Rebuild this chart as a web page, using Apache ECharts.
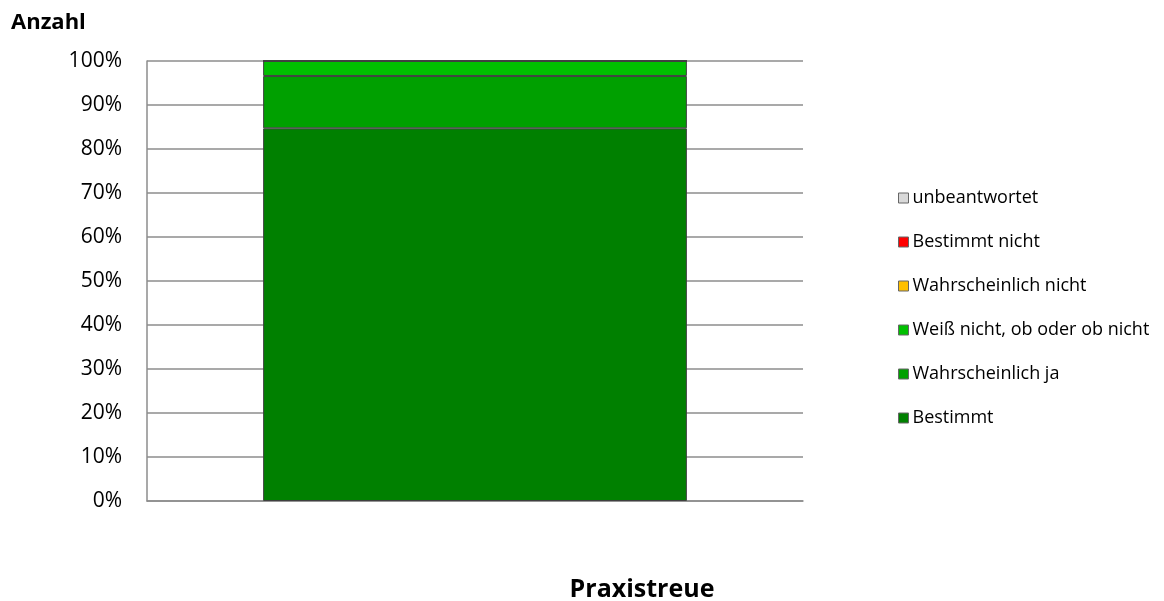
<!DOCTYPE html>
<html><head><meta charset="utf-8">
<script src="https://cdn.jsdelivr.net/npm/echarts@6/dist/echarts.min.js"></script>
<style>html,body{margin:0;padding:0;background:#fff}#c{width:1164px;height:601px}</style>
</head><body><div id="c"></div>
<script>
const categories = ['Praxistreue'];
const seriesNames = ['Bestimmt', 'Wahrscheinlich ja', 'Weiß nicht, ob oder ob nicht', 'Wahrscheinlich nicht', 'Bestimmt nicht', 'unbeantwortet'];
const bestimmt = [84.7];
const wahrscheinlichJa = [11.9];
const weissNicht = [3.4];
const wahrscheinlichNicht = [0];
const bestimmtNicht = [0];
const unbeantwortet = [0];
const yTicks = [0, 10, 20, 30, 40, 50, 60, 70, 80, 90, 100];
const colors = ['#008000', '#00A000', '#00C000', '#FFC000', '#FF0000', '#D9D9D9'];
const values = [bestimmt, wahrscheinlichJa, weissNicht, wahrscheinlichNicht, bestimmtNicht, unbeantwortet];

const font = '"Open Sans", "Noto Sans", sans-serif';
const chart = echarts.init(document.getElementById('c'), null, {renderer: 'canvas'});
chart.setOption({
  animation: false,
  textStyle: {fontFamily: font},
  title: [
    {text: 'Anzahl', left: 6, top: 7, textStyle: {fontFamily: font, fontSize: 22, fontWeight: 'bold', color: '#000'}},
    {text: 'Praxistreue', left: 637, top: 572, textAlign: 'center', textStyle: {fontFamily: font, fontSize: 25, fontWeight: 'bold', color: '#000'}}
  ],
  legend: {
    orient: 'vertical', left: 893, top: 184,
    data: seriesNames.slice().reverse(),
    itemWidth: 10, itemHeight: 10, itemGap: 26, icon: 'rect',
    itemStyle: {borderColor: '#666', borderWidth: 1},
    textStyle: {fontFamily: font, fontSize: 18, color: '#000', padding: [0, 0, 0, -1]}
  },
  grid: {left: 147, right: 361, top: 61, bottom: 100},
  xAxis: {
    type: 'category', data: categories,
    axisLine: {show: true, lineStyle: {color: '#8c8c8c', width: 1.5}},
    axisTick: {show: false}, axisLabel: {show: false}
  },
  yAxis: {
    type: 'value', min: yTicks[0], max: yTicks[yTicks.length - 1], interval: 10,
    axisLine: {show: true, lineStyle: {color: '#8c8c8c', width: 1.5}},
    axisTick: {show: false},
    axisLabel: {formatter: '{value}%', fontFamily: font, fontSize: 21, color: '#000', margin: 25},
    splitLine: {lineStyle: {color: '#8c8c8c', width: 1.5}}
  },
  series: seriesNames.map((n, i) => ({
    name: n, type: 'bar', stack: 'a', data: values[i], barWidth: '64.6%',
    itemStyle: {color: colors[i], borderColor: '#404040', borderWidth: 1}
  }))
});
</script></body></html>
